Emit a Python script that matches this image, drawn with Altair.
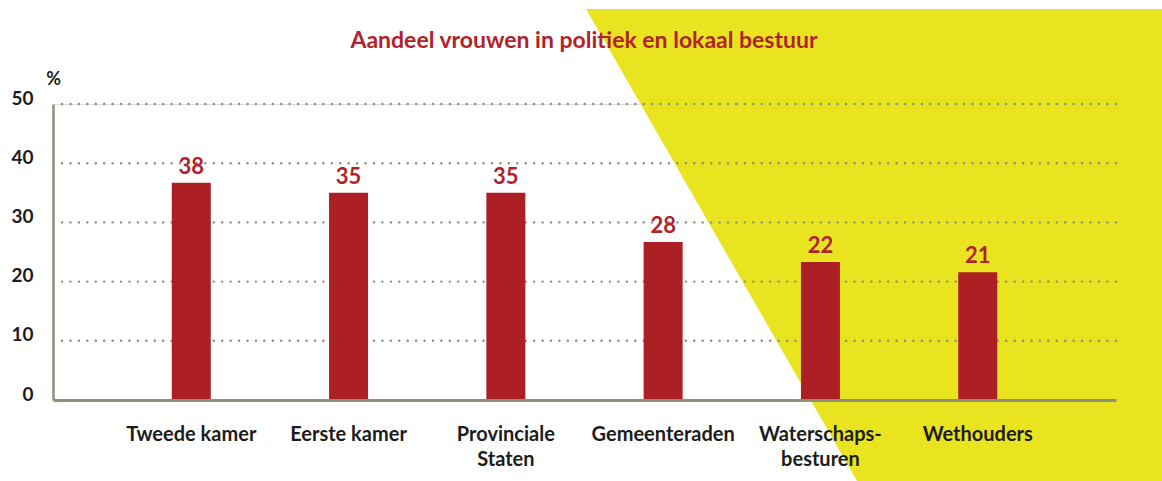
import altair as alt
import pandas as pd

# ---- data ----
categories = ["Tweede kamer", "Eerste kamer", "Provinciale\nStaten",
              "Gemeenteraden", "Waterschaps-\nbesturen", "Wethouders"]
bar_values = [36.7, 35.0, 35.0, 26.7, 23.3, 21.6]      # drawn bar heights
value_labels = ["38", "35", "35", "28", "22", "21"]   # printed numbers
grid_values = [10, 20, 30, 40, 50]
title_text = "Aandeel vrouwen in politiek en lokaal bestuur"

# ---- styling / layout ----
W, H = 1063, 296
PAD_L, PAD_T = 53, 104
FONT = "Lato"
RED = "#AC1F25"
TEXT_RED = "#B1232A"
YELLOW = "#EAE31F"
AXIS_GREEN = "#8B917A"
DARK = "#1C1C1C"

df = pd.DataFrame({"cat": categories, "val": bar_values, "lab": value_labels})
grid_df = pd.DataFrame({"g": grid_values})
title_df = pd.DataFrame({"t": [title_text]})

# decorative yellow band (pixel coordinates relative to the plot origin)
band_df = pd.DataFrame({"py": [9 - PAD_T, 481 - PAD_T],
                        "px": [586 - PAD_L, 857 - PAD_L],
                        "px2": [1162 - PAD_L, 1162 - PAD_L]})

yscale = alt.Scale(domain=[0, 50], nice=False)
xscale = alt.Scale(domain=categories, paddingInner=0.752, paddingOuter=0.755)

yellow = alt.Chart(band_df).mark_area(orient="horizontal", color=YELLOW).encode(
    y=alt.Y("py:Q", scale=None, axis=None),
    x=alt.X("px:Q", scale=None, axis=None),
    x2=alt.X2("px2"),
)

title = alt.Chart(title_df).mark_text(
    font=FONT, fontSize=23, fontWeight="bold", color=TEXT_RED,
    baseline="alphabetic", align="center"
).encode(
    text="t:N",
    x=alt.value(584 - PAD_L),
    y=alt.value(48 - PAD_T),
)

grid = alt.Chart(grid_df).mark_rule(
    color=AXIS_GREEN, strokeWidth=2.4, strokeDash=[0.1, 8.33], strokeCap="round"
).encode(
    y=alt.Y("g:Q", scale=yscale),
    x=alt.value(9),
    x2=alt.value(W + 2),
)

bars = alt.Chart(df).mark_bar(color=RED).encode(
    x=alt.X("cat:N", scale=xscale, sort=categories, title=None,
            axis=alt.Axis(labelExpr="split(datum.value, '\\n')", labelAngle=0,
                          labelFont=FONT, labelFontSize=20, labelFontWeight="bold",
                          labelColor=DARK, labelPadding=24, labelLineHeight=25,
                          ticks=False, domainColor=AXIS_GREEN, domainWidth=3,
                          zindex=1)),
    y=alt.Y("val:Q", scale=yscale,
            axis=alt.Axis(values=[0, 10, 20, 30, 40, 50], grid=False, ticks=False,
                          labelFont=FONT, labelFontSize=19, labelFontWeight="bold",
                          labelColor=DARK, labelPadding=20, labelOffset=-6,
                          domainColor=AXIS_GREEN, domainWidth=2.5, zindex=1,
                          title="%", titleAngle=0, titleX=0, titleY=-25,
                          titleAlign="center", titleBaseline="middle",
                          titleFont=FONT, titleFontSize=18, titleFontWeight="bold",
                          titleColor=DARK)),
)

labels = alt.Chart(df).mark_text(
    font=FONT, fontSize=22, fontWeight="bold", color=TEXT_RED,
    baseline="alphabetic", dy=-9
).encode(
    x=alt.X("cat:N", scale=xscale, sort=categories),
    y=alt.Y("val:Q", scale=yscale),
    text="lab:N",
)

chart = alt.layer(yellow, title, grid, bars, labels).properties(
    width=W, height=H,
    autosize=alt.AutoSizeParams(type="none"),
    padding={"left": PAD_L, "top": PAD_T, "right": 1162 - PAD_L - W,
             "bottom": 481 - PAD_T - H},
).configure_view(stroke=None).configure(background="white")

chart.save("out.html", embed_options={"renderer": "svg", "actions": False})
